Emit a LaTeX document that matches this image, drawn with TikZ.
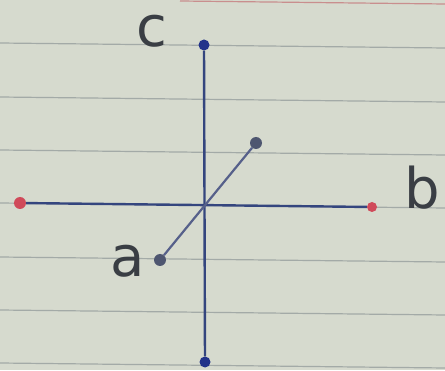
\documentclass[tikz,border=0pt]{standalone}
\usepackage{fontspec}
\setmainfont{DejaVu Sans}
\begin{document}
\begin{tikzpicture}[x=1pt,y=1pt,
  rule/.style={draw=rulegray,line width=1.2pt},
  axis/.style={draw=penblue,line width=2.4pt},
  diag/.style={draw=diagblue,line width=2.2pt},
  bluedot/.style={circle,fill=dotblue,inner sep=0pt,minimum size=11pt},
  reddot/.style={circle,fill=dotred,inner sep=0pt,minimum size=12pt},
  greydot/.style={circle,fill=dotgrey,inner sep=0pt,minimum size=12pt},
  lbl/.style={anchor=base,text=inkgray,font=\fontsize{56}{60}\selectfont,inner sep=0pt}]
\definecolor{paper}{HTML}{D6DACE}
\definecolor{rulegray}{HTML}{A3AAA7}
\definecolor{penblue}{HTML}{34457E}
\definecolor{diagblue}{HTML}{56608A}
\definecolor{dotblue}{HTML}{22338A}
\definecolor{dotred}{HTML}{D04A5A}
\definecolor{dotgrey}{HTML}{4E5670}
\definecolor{inkgray}{HTML}{3A3E44}
\definecolor{marginred}{HTML}{C98E8E}
\fill[paper] (0,0) rectangle (445,370);
\useasboundingbox (0,0) rectangle (445,370);
% ruled lines
\foreach \y in {327,273,220,167,113,60,7}{
  \draw[rule] (0,\y) -- (445,\y-5);
}
\draw[marginred,line width=1.2pt] (180,369) -- (445,366);
% points
\node[bluedot] (ctop) at (204,325) {};
\node[bluedot] (cbot) at (205,8) {};
\node[reddot] (bl) at (20,167) {};
\node[reddot,minimum size=10pt] (br) at (372,163) {};
\node[greydot] (atop) at (256,227) {};
\node[greydot] (abot) at (160,110) {};
% lines
\draw[axis] (ctop) -- (cbot);
\draw[axis] (bl) -- (br);
\draw[diag] (abot) -- (atop);
% labels
\node[lbl] (lc) at (152,323) {c};
\node[lbl] (lb) at (422,161) {b};
\node[lbl] (la) at (128,93) {a};
\end{tikzpicture}
\end{document}
